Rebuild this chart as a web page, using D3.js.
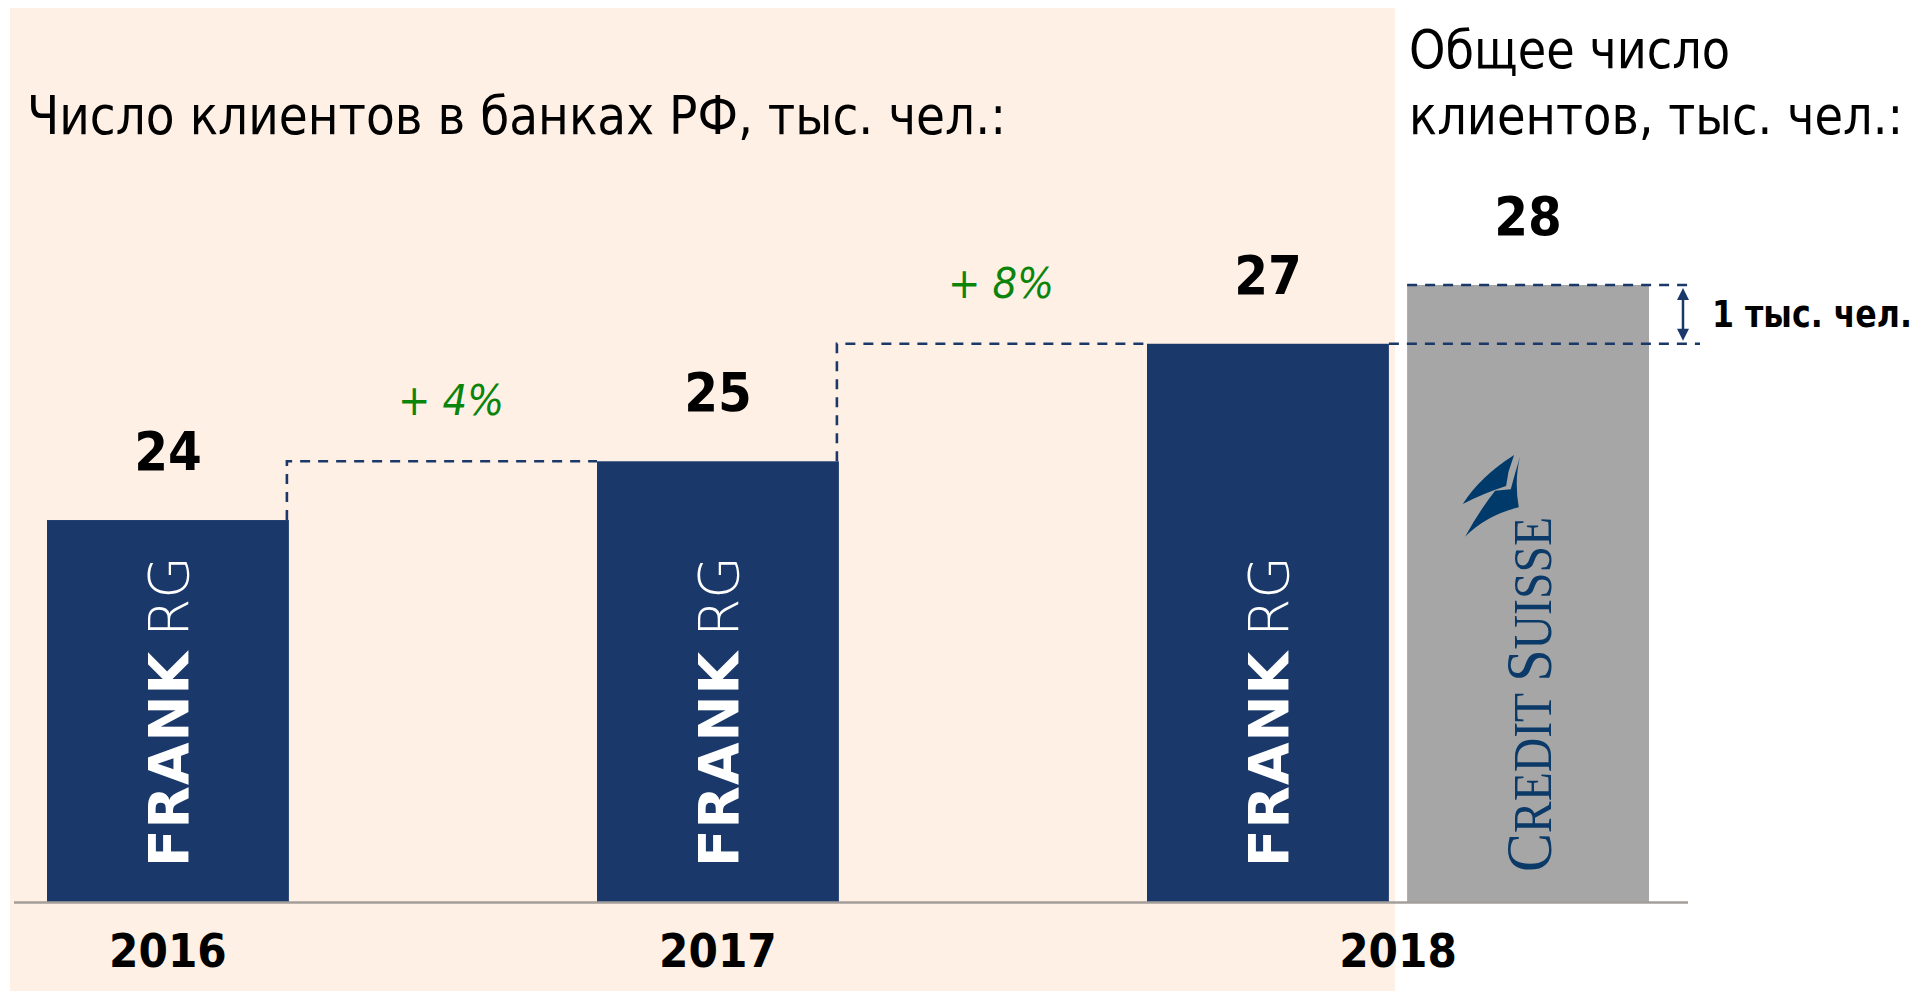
<!DOCTYPE html>
<html>
<head>
<meta charset="utf-8">
<script src="https://cdn.jsdelivr.net/npm/d3@7"></script>
<style>
  body { margin: 0; background: #ffffff; }
  .txt { font-family: "DejaVu Sans Condensed", "DejaVu Sans", sans-serif; }
</style>
</head>
<body>
<div id="chart"></div>
<script>
// data
const years = ["2016", "2017", "2018"];
const frankValues = [24, 25, 27];
const csYear = "2018";
const csValue = 28;
const growthLabels = ["+ 4%", "+ 8%"];
const diffLabel = "1 тыс. чел.";
const leftTitle = "Число клиентов в банках РФ, тыс. чел.:";
const rightTitle = ["Общее число", "клиентов, тыс. чел.:"];
const seriesNames = ["FRANK RG", "Credit Suisse"];

const width = 1923, height = 991;
const navy = "#1a396a", grey = "#a6a6a6", peach = "#fef0e4", green = "#0b840b", csBlue = "#0b3a68";

const svg = d3.select("#chart").append("svg")
  .attr("width", width)
  .attr("height", height);

const x = d3.scaleBand().domain(years).range([47, 1697]);
const xs = d3.scaleBand().domain(seriesNames).range([0, 502]).paddingInner(0.07);
const y = d3.scaleLinear().domain([17.5, 28]).range([902, 285]);

const bw = xs.bandwidth();
const frank = years.map((yr, i) => ({year: yr, value: frankValues[i], x0: x(yr) + xs(seriesNames[0])}));
const cs = {year: csYear, value: csValue, x0: x(csYear) + xs(seriesNames[1])};

// fit a text to the width it has in the layout
function fitText(sel, w) {
  const len = sel.node().getComputedTextLength();
  if (len > w) sel.attr("textLength", w).attr("lengthAdjust", "spacingAndGlyphs");
  return sel;
}

// peach background behind russian banks part
svg.append("rect")
  .attr("x", 10).attr("y", 8)
  .attr("width", frank[2].x0 + bw + 6 - 10)
  .attr("height", height - 8)
  .attr("fill", peach);

// titles
fitText(svg.append("text").attr("class", "txt")
  .attr("x", 27).attr("y", 134)
  .attr("font-size", 54)
  .attr("fill", "#000")
  .text(leftTitle), 979);

const rightWidths = [321, 494];
rightTitle.forEach((line, i) => {
  fitText(svg.append("text").attr("class", "txt")
    .attr("x", cs.x0 + 2)
    .attr("y", 68 + i * 66)
    .attr("font-size", 54)
    .attr("fill", "#000")
    .text(line), rightWidths[i]);
});

// bars
svg.append("g").selectAll("rect")
  .data(frank)
  .enter().append("rect")
  .attr("x", d => d.x0)
  .attr("y", d => y(d.value))
  .attr("width", bw)
  .attr("height", d => y.range()[0] - y(d.value))
  .attr("fill", navy);

svg.append("rect")
  .attr("x", cs.x0)
  .attr("y", y(cs.value))
  .attr("width", bw)
  .attr("height", y.range()[0] - y(cs.value))
  .attr("fill", grey);

// baseline
svg.append("line")
  .attr("x1", 14).attr("x2", cs.x0 + bw + 39)
  .attr("y1", y.range()[0] + 0.5).attr("y2", y.range()[0] + 0.5)
  .attr("stroke", "#a39e9a")
  .attr("stroke-width", 2.5);

// dashed step connectors
const dash = svg.append("g")
  .attr("fill", "none")
  .attr("stroke", navy)
  .attr("stroke-width", 2.6)
  .attr("stroke-dasharray", "10,8");

for (let i = 0; i < frank.length - 1; i++) {
  const a = frank[i], b = frank[i + 1];
  const xr = a.x0 + bw - 2;
  dash.append("path")
    .attr("d", `M${xr},${y(a.value)}V${y(b.value)}H${b.x0}`);
}
dash.append("line")
  .attr("x1", frank[2].x0 + bw).attr("x2", cs.x0 + bw + 51)
  .attr("y1", y(frank[2].value)).attr("y2", y(frank[2].value));
dash.append("line")
  .attr("x1", cs.x0).attr("x2", cs.x0 + bw + 46)
  .attr("y1", y(cs.value)).attr("y2", y(cs.value));

// growth labels
svg.append("g").selectAll("text")
  .data(growthLabels)
  .enter().append("text")
  .attr("class", "txt")
  .attr("x", (d, i) => (frank[i].x0 + bw + frank[i + 1].x0) / 2 + 8)
  .attr("y", (d, i) => y(frank[i + 1].value) - 46)
  .attr("text-anchor", "middle")
  .attr("font-size", 43)
  .attr("font-style", "italic")
  .attr("fill", green)
  .text(d => d);

// value labels
svg.append("g").selectAll("text")
  .data(frank.concat([cs]))
  .enter().append("text")
  .attr("class", "txt")
  .attr("x", d => d.x0 + bw / 2)
  .attr("y", d => y(d.value) - 50)
  .attr("text-anchor", "middle")
  .attr("font-size", 54)
  .attr("font-weight", "bold")
  .attr("fill", "#000")
  .text(d => d.value);

// year labels
svg.append("g").selectAll("text")
  .data(years)
  .enter().append("text")
  .attr("class", "txt")
  .attr("x", d => d === csYear ? x(d) + (xs(seriesNames[1]) + bw) / 2 : x(d) + bw / 2)
  .attr("y", 967)
  .attr("text-anchor", "middle")
  .attr("font-size", 47)
  .attr("font-weight", "bold")
  .attr("fill", "#000")
  .text(d => d);

// difference arrow
const ax = cs.x0 + bw + 34;
const ya = y(cs.value), yb = y(frank[2].value);
svg.append("line")
  .attr("x1", ax).attr("x2", ax)
  .attr("y1", ya + 8).attr("y2", yb - 8)
  .attr("stroke", navy).attr("stroke-width", 2.5);
svg.append("path")
  .attr("d", `M${ax},${ya + 3}l-6,12h12z M${ax},${yb - 3}l-6,-12h12z`)
  .attr("fill", navy);
fitText(svg.append("text").attr("class", "txt")
  .attr("x", ax + 29)
  .attr("y", (ya + yb) / 2 + 13)
  .attr("font-size", 38)
  .attr("font-weight", "bold")
  .attr("fill", "#000")
  .text(diffLabel), 200);

// FRANK RG logos
frank.forEach(d => {
  const t = svg.append("text")
    .attr("transform", `translate(${d.x0 + bw / 2 + 20},867) rotate(-90)`)
    .attr("font-family", "'DejaVu Sans', sans-serif")
    .attr("font-size", 55)
    .attr("fill", "#ffffff");
  t.append("tspan").attr("font-weight", "bold").attr("letter-spacing", 1).text("FRANK");
  t.append("tspan").attr("dx", 14).attr("font-weight", 200).text("RG");
});

// Credit Suisse logo
const csText = svg.append("text")
  .attr("transform", `translate(${cs.x0 + bw / 2 + 23},872) rotate(-90)`)
  .attr("font-family", "'Liberation Serif', serif")
  .attr("fill", csBlue)
  .attr("textLength", 355)
  .attr("lengthAdjust", "spacingAndGlyphs");
csText.append("tspan").attr("font-size", 66).text("C");
csText.append("tspan").attr("font-size", 54).text("REDIT ");
csText.append("tspan").attr("font-size", 66).text("S");
csText.append("tspan").attr("font-size", 54).text("UISSE");

const sail = svg.append("g")
  .attr("transform", `translate(${cs.x0 + 33},440) scale(0.3333)`)
  .attr("fill", "#003a6a");
sail.append("path")
  .attr("d", "M222,45 Q120,110 68,192 Q130,160 198,138 L205,96 Z");
sail.append("path")
  .attr("d", "M240,50 Q222,120 236,202 Q140,225 75,290 Q118,212 165,152 L212,148 Q224,100 240,50 Z");
</script>
</body>
</html>
